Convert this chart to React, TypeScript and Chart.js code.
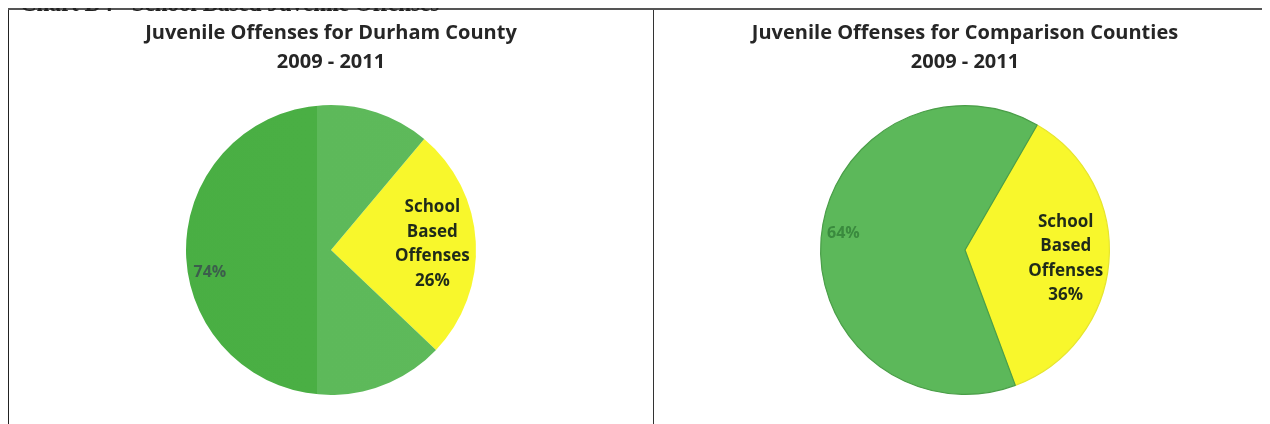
import React, { useEffect, useRef } from "react";
import { Chart, registerables } from "chart.js";

Chart.register(...registerables);

const categories = ["School Based Offenses", "Other Juvenile Offenses"];
const durhamValues = [26, 74];
const comparisonValues = [36, 64];
const durhamTitle = ["Juvenile Offenses for Durham County", "2009 - 2011"];
const comparisonTitle = ["Juvenile Offenses for Comparison Counties", "2009 - 2011"];
const headerText = "Chart D4 - School Based Juvenile Offenses";

const FONT = "'Open Sans', 'Noto Sans', sans-serif";

type PanelProps = {
  values: number[];
  title: string[];
  rotation: number;
  shaded: boolean;
  otherLabelColor: string;
  otherFrac: number;
  padLeft: number;
};

const labelPlugin = {
  id: "sliceLabels",
  afterDatasetsDraw(chart: any, _args: any, opts: any) {
    const meta = chart.getDatasetMeta(0);
    const ctx = chart.ctx;
    const vals: number[] = chart.data.datasets[0].data;
    meta.data.forEach((arc: any, i: number) => {
      const { x, y, startAngle, endAngle, outerRadius } = arc.getProps(
        ["x", "y", "startAngle", "endAngle", "outerRadius"],
        true
      );
      const pct = vals[i] + "%";
      ctx.save();
      ctx.textAlign = "center";
      ctx.textBaseline = "middle";
      if (i === 0) {
        const mid = (startAngle + endAngle) / 2;
        const lines = ["School", "Based", "Offenses", pct];
        const r = outerRadius * opts.innerFactor;
        const lx = x + Math.cos(mid) * r;
        const ly = y + Math.sin(mid) * r;
        ctx.font = `bold 17px ${FONT}`;
        ctx.fillStyle = "#1f2a1a";
        const lh = 24.5;
        lines.forEach((t, k) => {
          ctx.fillText(t, lx, ly + (k - (lines.length - 1) / 2) * lh);
        });
      } else {
        const ang = startAngle + (endAngle - startAngle) * opts.otherFrac;
        const r = outerRadius * 0.85;
        const lx = x + Math.cos(ang) * r;
        const ly = y + Math.sin(ang) * r;
        ctx.font = `bold 16px ${FONT}`;
        ctx.fillStyle = opts.otherColor;
        ctx.fillText(pct, lx, ly);
      }
      ctx.restore();
    });
  },
};

function PiePanel(props: PanelProps) {
  const ref = useRef<HTMLCanvasElement | null>(null);
  useEffect(() => {
    if (!ref.current) return;
    const fill = (c: any) => {
      if (c.dataIndex === 0) return "#f8f72c";
      if (!props.shaded) return "#5cb85a";
      const chart = c.chart;
      const area = chart.chartArea;
      if (!area) return "#4caf46";
      const cx = (area.left + area.right) / 2;
      const r = Math.min(area.right - area.left, area.bottom - area.top) / 2;
      const split = cx - r * 0.1;
      const g = chart.ctx.createLinearGradient(area.left, 0, area.right, 0);
      const f = (split - area.left) / (area.right - area.left);
      g.addColorStop(0, "#48ae42");
      g.addColorStop(f, "#4aaf44");
      g.addColorStop(Math.min(1, f + 0.001), "#5db95a");
      g.addColorStop(1, "#5fba5b");
      return g;
    };
    const border = (c: any) => {
      if (props.shaded) return c.dataIndex === 0 ? "#f8f72c" : "#55b450";
      return c.dataIndex === 0 ? "#e6e52e" : "#4a9e48";
    };
    const chart = new Chart(ref.current, {
      type: "pie",
      data: {
        labels: categories,
        datasets: [
          {
            data: props.values,
            backgroundColor: fill as any,
            borderColor: border as any,
            borderWidth: props.shaded ? 0 : 1.2,
          },
        ],
      },
      options: {
        animation: false,
        responsive: true,
        maintainAspectRatio: false,
        rotation: props.rotation,
        layout: { padding: { left: props.padLeft, bottom: 29 } },
        plugins: {
          legend: { display: false },
          tooltip: { enabled: false },
          title: {
            display: true,
            text: props.title,
            color: "#262626",
            font: { family: FONT, size: 20, weight: "bold", lineHeight: 1.45 },
            padding: { top: 9, bottom: 28 },
          },
          sliceLabels: {
            innerFactor: 0.7,
            otherColor: props.otherLabelColor,
            otherFrac: props.otherFrac,
          },
        } as any,
      },
      plugins: [labelPlugin],
    });
    return () => chart.destroy();
  }, []);
  return (
    <div style={{ position: "relative", width: "100%", height: 414 }}>
      <canvas ref={ref} />
    </div>
  );
}

export default function App() {
  return (
    <div
      style={{
        position: "relative",
        width: 1262,
        height: 416,
        boxSizing: "border-box",
        borderTop: "2px solid #555",
        display: "flex",
        background: "#fff",
      }}
    >
      <div
        style={{
          position: "absolute",
          top: -16,
          left: 12,
          zIndex: 5,
          font: "bold 23px 'Liberation Serif', 'Times New Roman', serif",
          lineHeight: "20px",
          color: "#222",
          whiteSpace: "nowrap",
        }}
      >
        {headerText}
      </div>
      <div
        style={{
          width: 645,
          height: 414,
          boxSizing: "border-box",
          borderLeft: "1px solid #222",
        }}
      >
        <PiePanel
          values={durhamValues}
          title={durhamTitle}
          rotation={40}
          shaded={true}
          otherLabelColor="#3c5e4c"
          otherFrac={0.472}
          padLeft={0}
        />
      </div>
      <div
        style={{
          width: 617,
          height: 414,
          boxSizing: "border-box",
          borderLeft: "1px solid #333",
          borderRight: "1px solid #666",
        }}
      >
        <PiePanel
          values={comparisonValues}
          title={comparisonTitle}
          rotation={30}
          shaded={false}
          otherLabelColor="#3a8a3e"
          otherFrac={0.513}
          padLeft={7}
        />
      </div>
    </div>
  );
}
